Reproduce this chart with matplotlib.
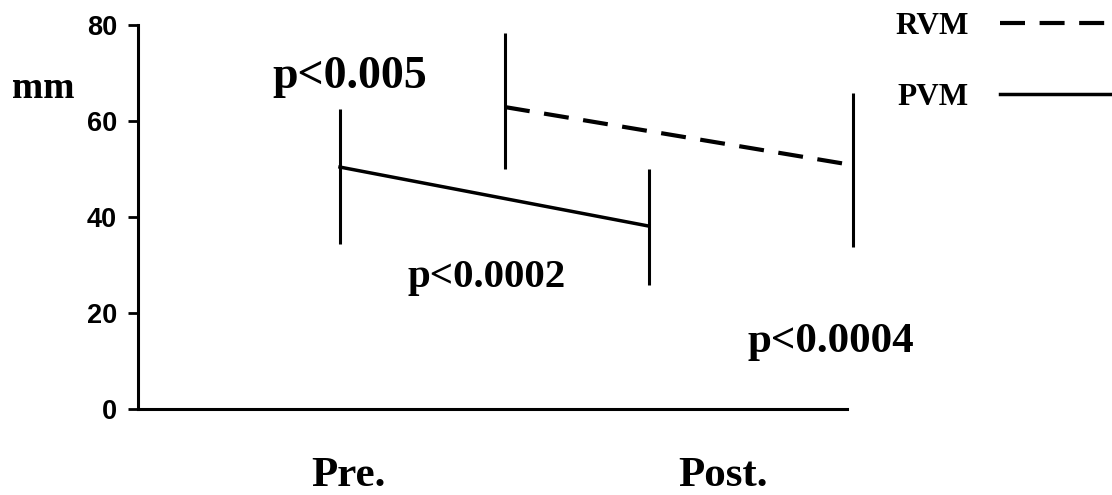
import matplotlib
matplotlib.use("Agg")
import matplotlib.pyplot as plt

# ---- data ----
groups = ["RVM", "PVM"]
pvm_mean = [50.4, 38.1]
pvm_low = [34.4, 25.8]
pvm_high = [62.5, 50.0]
rvm_mean = [62.9, 50.8]
rvm_low = [50.0, 33.7]
rvm_high = [78.3, 65.8]
phase_labels = ["Pre.", "Post."]
p_labels = ["p<0.005", "p<0.0002", "p<0.0004"]
y_ticks = [0, 20, 40, 60, 80]

# ---- positions (pre = 1, post = 2) ----
x_pvm = [1.0, 2.0]
x_rvm = [1.534, 2.66]
x_phase = [1.026, 2.239]

SERIF = ["Liberation Serif", "DejaVu Serif"]
SANS = ["Liberation Sans", "DejaVu Sans"]

fig = plt.figure(figsize=(11.12, 4.95), dpi=100)
ax = fig.add_axes([138 / 1112, 86 / 495, 974 / 1112, 384 / 495])
ax.set_xlim(0.3463, 3.4984)
ax.set_ylim(0, 80)

# error bars (ranges) and connecting lines
ax.vlines(x_pvm, pvm_low, pvm_high, color="black", lw=2.2)
ax.vlines(x_rvm, rvm_low, rvm_high, color="black", lw=2.2, clip_on=False)
l_rvm, = ax.plot(x_rvm, rvm_mean, color="black", lw=3, ls=(0, (6, 3.5)),
                 label=groups[0], clip_on=False)
l_pvm, = ax.plot(x_pvm, pvm_mean, color="black", lw=2.5, label=groups[1])

# axes styling
for s in ["top", "right"]:
    ax.spines[s].set_visible(False)
ax.spines["left"].set_linewidth(2.2)
ax.spines["bottom"].set_linewidth(2.2)
ax.spines["bottom"].set_bounds(0.3463, 2.641)
ax.set_xticks([])
ax.set_yticks(y_ticks)
ax.tick_params(axis="y", length=7, width=2, pad=8)
for lab in ax.get_yticklabels():
    lab.set_fontfamily(SANS)
    lab.set_fontweight("bold")
    lab.set_fontsize(19.5)

# phase labels under the axis
for xp, t in zip(x_phase, phase_labels):
    ax.text(xp, -16.0, t, ha="center", va="baseline", fontsize=31,
            fontweight="bold", family=SERIF, clip_on=False)

# p-values
ax.text(0.78, 66.9, p_labels[0], ha="left", va="baseline", fontsize=33,
        fontweight="bold", family=SERIF)
ax.text(1.22, 25.4, p_labels[1], ha="left", va="baseline", fontsize=29.5,
        fontweight="bold", family=SERIF)
ax.text(2.32, 11.9, p_labels[2], ha="left", va="baseline", fontsize=31,
        fontweight="bold", family=SERIF)

# unit label
fig.text(12 / 1112, 1 - 98 / 495, "mm", ha="left", va="baseline",
         fontsize=27, fontweight="bold", family=SERIF)

# legend: label first, line after
leg = ax.legend(handles=[l_rvm, l_pvm], loc="upper left",
                bbox_to_anchor=(895 / 1112, 1 - 12 / 495),
                bbox_transform=fig.transFigure, markerfirst=False,
                frameon=False, handlelength=4.5, handletextpad=1.0,
                labelspacing=1.35, borderpad=0, borderaxespad=0,
                prop={"family": SERIF, "weight": "bold", "size": 22.5})

fig.savefig("out.png", dpi=100)
